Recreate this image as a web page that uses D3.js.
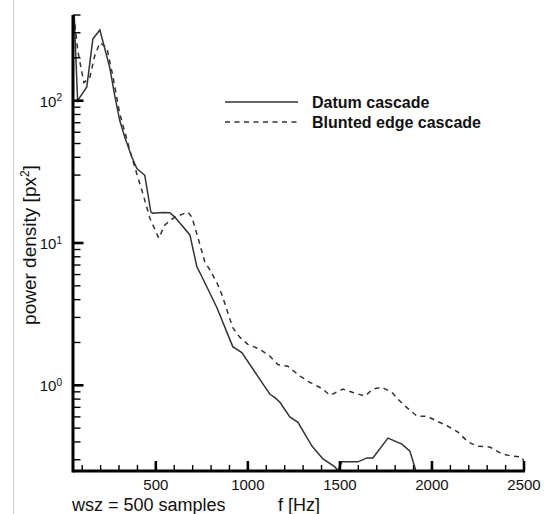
<!DOCTYPE html>
<html>
<head>
<meta charset="utf-8">
<script src="https://cdn.jsdelivr.net/npm/d3@7"></script>
<style>
  html, body { margin: 0; padding: 0; background: #fff; }
  svg { display: block; font-family: "Liberation Sans", Arial, sans-serif; }
</style>
</head>
<body>
<svg id="chart" width="550" height="514"></svg>
<script>
// ---- data ----
const datumFreq = [55, 75, 125, 158, 196, 250, 277, 304, 332, 370, 397, 440, 473, 484, 538, 576, 603, 685, 723, 739, 832, 918, 967, 1076, 1120, 1147, 1174, 1228, 1272, 1348, 1408, 1473, 1489, 1511, 1598, 1647, 1679, 1761, 1837, 1880, 1913, 1940];
const datumPower = [450, 100, 125, 272, 314, 170, 108, 72.5, 55, 40, 33.4, 29.9, 16.5, 16.2, 16.4, 16.3, 15.2, 11.4, 6.8, 6.2, 3.51, 1.87, 1.70, 1.05, 0.865, 0.82, 0.76, 0.60, 0.55, 0.374, 0.304, 0.267, 0.252, 0.29, 0.29, 0.309, 0.309, 0.426, 0.386, 0.345, 0.25, 0.18];

const bluntFreq = [55, 76, 109, 141, 168, 196, 234, 266, 304, 359, 402, 429, 467, 516, 549, 603, 674, 696, 728, 766, 793, 832, 859, 891, 918, 957, 1000, 1065, 1120, 1163, 1217, 1283, 1337, 1408, 1446, 1516, 1571, 1636, 1679, 1728, 1783, 1842, 1919, 1973, 2027, 2082, 2141, 2196, 2245, 2315, 2380, 2435, 2489, 2500];
const bluntPower = [400, 224, 134, 145, 207, 255, 235, 150, 81, 44.7, 29, 22.4, 15, 10.8, 13.4, 15.2, 16.5, 15.2, 11.0, 7.36, 6.5, 5.25, 4.33, 3.24, 2.54, 2.17, 1.94, 1.79, 1.60, 1.40, 1.36, 1.16, 1.05, 0.94, 0.85, 0.94, 0.89, 0.84, 0.94, 0.97, 0.89, 0.736, 0.607, 0.607, 0.56, 0.52, 0.47, 0.40, 0.374, 0.368, 0.329, 0.318, 0.313, 0.29];

const seriesNames = ["Datum cascade", "Blunted edge cascade"];
const xMajorTicks = [500, 1000, 1500, 2000, 2500];
const xMinorTicks = [100, 200, 300, 400, 600, 700, 800, 900, 1100, 1200, 1300, 1400, 1600, 1700, 1800, 1900, 2100, 2200, 2300, 2400];
const yMajorTicks = [1, 10, 100];
const yMinorTicks = [0.3, 0.4, 0.5, 0.6, 0.7, 0.8, 0.9, 2, 3, 4, 5, 6, 7, 8, 9, 20, 30, 40, 50, 60, 70, 80, 90, 200, 300, 400];
const yTickExponents = ["0", "1", "2"];
const xLabel = "f [Hz]";
const yLabelMain = "power density [px";
const yLabelSup = "2";
const note = "wsz = 500 samples";

// ---- layout ----
const svg = d3.select("#chart");
const L = 73, R = 524, T = 15, B = 471;

const x = d3.scaleLinear().domain([50, 2500]).range([L, R]);
const y = d3.scaleLog().domain([0.25, 400]).range([B, T]);

// faint left border line
svg.append("line").attr("x1", 13.5).attr("x2", 13.5).attr("y1", 0).attr("y2", 514)
  .attr("stroke", "#d0d0d0").attr("stroke-width", 1);

// clip
svg.append("clipPath").attr("id", "clip").append("rect")
  .attr("x", L).attr("y", T).attr("width", R - L).attr("height", B - T);

const line = d3.line().x(d => x(d[0])).y(d => y(d[1]));
const datum = datumFreq.map((f, i) => [f, datumPower[i]]);
const blunt = bluntFreq.map((f, i) => [f, bluntPower[i]]);

const g = svg.append("g").attr("clip-path", "url(#clip)");
g.append("path").datum(blunt).attr("d", line)
  .attr("fill", "none").attr("stroke", "#333").attr("stroke-width", 1.5)
  .attr("stroke-dasharray", "5,4.5");
g.append("path").datum(datum).attr("d", line)
  .attr("fill", "none").attr("stroke", "#333").attr("stroke-width", 1.5);

// axis lines
svg.append("line").attr("x1", L).attr("x2", R + 1).attr("y1", B).attr("y2", B)
  .attr("stroke", "#000").attr("stroke-width", 3);
svg.append("line").attr("x1", L).attr("x2", L).attr("y1", T).attr("y2", B + 1.5)
  .attr("stroke", "#000").attr("stroke-width", 3);

// ---- ticks (inward) ----
const tg = svg.append("g").attr("stroke", "#000");
tg.selectAll(".xminor").data(xMinorTicks).join("line").attr("class", "xminor")
  .attr("x1", d => x(d)).attr("x2", d => x(d)).attr("y1", B).attr("y2", B - 6)
  .attr("stroke-width", 1.4);
tg.selectAll(".xmajor").data(xMajorTicks).join("line").attr("class", "xmajor")
  .attr("x1", d => x(d)).attr("x2", d => x(d)).attr("y1", B).attr("y2", B - 10)
  .attr("stroke-width", 2.6);
tg.selectAll(".yminor").data(yMinorTicks).join("line").attr("class", "yminor")
  .attr("x1", L).attr("x2", L + 7.5).attr("y1", d => y(d)).attr("y2", d => y(d))
  .attr("stroke-width", 1.4);
tg.selectAll(".ymajor").data(yMajorTicks).join("line").attr("class", "ymajor")
  .attr("x1", L).attr("x2", L + 10.5).attr("y1", d => y(d)).attr("y2", d => y(d))
  .attr("stroke-width", 2.6);

// tick labels
svg.append("g").selectAll("text").data(xMajorTicks).join("text")
  .attr("x", d => x(d)).attr("y", 490).attr("text-anchor", "middle")
  .attr("font-size", 15).attr("fill", "#111").text(d3.format("d"));

svg.append("g").selectAll("text").data(yMajorTicks).join("text")
  .attr("x", 62).attr("y", d => y(d) + 6).attr("text-anchor", "end")
  .attr("font-size", 15).attr("fill", "#111")
  .each(function(d, i) {
    const t = d3.select(this);
    t.append("tspan").text("10");
    t.append("tspan").attr("font-size", 10).attr("dy", "-0.55em").text(yTickExponents[i]);
  });

// axis titles
svg.append("text").attr("x", 278).attr("y", 511).attr("font-size", 18).attr("fill", "#111")
  .text(xLabel);
svg.append("text").attr("x", 72).attr("y", 511).attr("font-size", 18).attr("fill", "#111")
  .text(note);
const yl = svg.append("text").attr("transform", "translate(36,245) rotate(-90)")
  .attr("text-anchor", "middle").attr("font-size", 19).attr("fill", "#111");
yl.append("tspan").text(yLabelMain);
yl.append("tspan").attr("font-size", 12).attr("dy", -7).text(yLabelSup);
yl.append("tspan").attr("dy", 7).text("]");

// ---- legend ----
const leg = svg.append("g");
const legRows = [{ y: 102, dash: null }, { y: 122, dash: "5,4.5" }];
legRows.forEach((r, i) => {
  leg.append("line").attr("x1", 225).attr("x2", 298).attr("y1", r.y).attr("y2", r.y)
    .attr("stroke", "#333").attr("stroke-width", 1.5)
    .attr("stroke-dasharray", r.dash);
  leg.append("text").attr("x", 312).attr("y", r.y + 5.5).attr("font-size", 16)
    .attr("font-weight", "bold").attr("fill", "#111").text(seriesNames[i]);
});
</script>
</body>
</html>
